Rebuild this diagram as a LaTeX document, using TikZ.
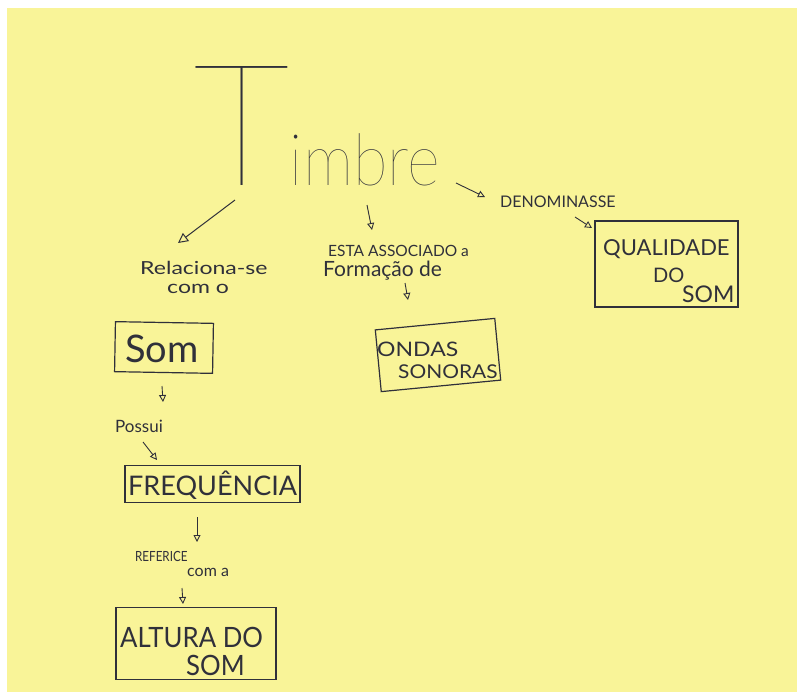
\documentclass[tikz,border=0pt]{standalone}
\usepackage{fontspec}
\setmainfont{Lato}
\newfontfamily\hairfont{Lato Hairline}
\IfFontExistsTF{Lato Thin}{\newfontfamily\thinfont{Lato Thin}}{\newfontfamily\thinfont{Lato Hairline}}
\usetikzlibrary{arrows.meta}
\definecolor{paper}{RGB}{249,244,152}
\definecolor{ink}{RGB}{48,48,58}
\newcommand{\fs}[1]{\fontsize{#1}{#1}\selectfont}
\newcommand{\sx}[2]{\scalebox{#1}[1]{#2}}
\tikzset{
  box/.style={draw=ink, line width=1.2pt, inner sep=0pt},
  lbl/.style={text=ink, inner sep=0pt, anchor=base west},
  link/.style={draw=ink, line width=0.9pt, -{Triangle[open, length=7pt, width=7pt, line width=0.9pt]}},
  biglink/.style={draw=ink, line width=1pt, -{Triangle[open, length=10pt, width=10pt, line width=1pt]}},
}
\begin{document}
\begin{tikzpicture}[x=1pt,y=-1pt]
\useasboundingbox (0,0) rectangle (797,697);
\fill[white] (0,0) rectangle (797,697);
\fill[paper] (7,8) rectangle (797,692);

% title
\node[lbl] (timbre) at (193,185) {{\hairfont\fs{170}T}\sx{0.88}{\thinfont\fs{72}imbre}};

% linking phrases
\node[lbl, font=\fs{18}] (rel1) at (140,274) {\sx{1.28}{Relaciona-se}};
\node[lbl, font=\fs{18}] (rel2) at (167,293) {\sx{1.28}{com o}};
\node[lbl, font=\fs{15.5}] (esta1) at (328,256) {ESTA ASSOCIADO a};
\node[lbl, font=\fs{21}] (esta2) at (323,276) {Formação de};
\node[lbl, font=\fs{16}] (deno) at (500,207) {DENOMINASSE};
\node[lbl, font=\fs{17}] (possui) at (115,432) {Possui};
\node[lbl, font=\fs{14}] (ref1) at (135,561) {\sx{0.83}{REFERICE}};
\node[lbl, font=\fs{16}] (ref2) at (187,576) {com a};

% concept boxes
\node[box, minimum width=98pt, minimum height=50pt, rotate=-1] (sombox) at (164,347.5) {};
\node[lbl, font=\fs{38}] (som) at (125,362) {Som};

\node[box, minimum width=175pt, minimum height=37pt] (freqbox) at (212.5,484) {};
\node[lbl, font=\fs{27}] (freq) at (128,495) {FREQUÊNCIA};

\node[box, minimum width=160pt, minimum height=72pt] (altbox) at (196,643.5) {};
\node[lbl, font=\fs{28}] (alt1) at (120,647) {\sx{0.92}{ALTURA DO}};
\node[lbl, font=\fs{28}] (alt2) at (186,675) {\sx{0.92}{SOM}};

\node[box, minimum width=120pt, minimum height=62pt, rotate=5.5] (ondbox) at (438,355) {};
\node[lbl, font=\fs{20}] (ond1) at (377,356) {\sx{1.15}{ONDAS}};
\node[lbl, font=\fs{19}] (ond2) at (398,378) {\sx{1.1}{SONORAS}};

\node[box, minimum width=143pt, minimum height=86pt] (qualbox) at (666.5,264) {};
\node[lbl, font=\fs{22}] (qual1) at (603,255) {QUALIDADE};
\node[lbl, font=\fs{20}] (qual2) at (653,282) {DO};
\node[lbl, font=\fs{23}] (qual3) at (682,302) {SOM};

% connector ends
\coordinate (a1s) at (235,200); \coordinate (a1e) at (178,243);
\coordinate (a2s) at (367,205); \coordinate (a2e) at (372,230);
\coordinate (a3s) at (456,183); \coordinate (a3e) at (485,197);
\coordinate (a4s) at (575,217); \coordinate (a4e) at (592,228);
\coordinate (a5s) at (405,283); \coordinate (a5e) at (408,300);
\coordinate (a6s) at (162,386); \coordinate (a6e) at (163,402);
\coordinate (a7s) at (143,442); \coordinate (a7e) at (157,460);
\coordinate (a8s) at (197,517); \coordinate (a8e) at (197,542);
\coordinate (a9s) at (182,588); \coordinate (a9e) at (183,604);

\draw[biglink] (a1s) -- (a1e);
\draw[link] (a2s) -- (a2e);
\draw[link] (a3s) -- (a3e);
\draw[link] (a4s) -- (a4e);
\draw[link] (a5s) -- (a5e);
\draw[link] (a6s) -- (a6e);
\draw[link] (a7s) -- (a7e);
\draw[link] (a8s) -- (a8e);
\draw[link] (a9s) -- (a9e);
\end{tikzpicture}
\end{document}
